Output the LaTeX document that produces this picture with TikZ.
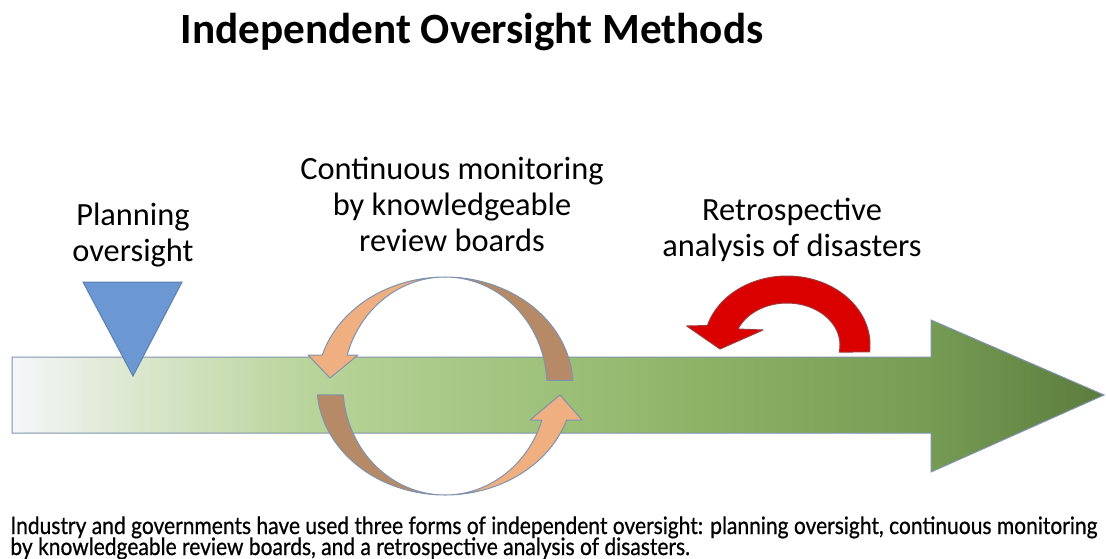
\documentclass[tikz,border=0pt]{standalone}
\usepackage{fontspec}
\usepackage{graphicx}
\setmainfont{Carlito}
\newfontfamily\capfont[FakeBold=0.7]{Lato}

% colours
\definecolor{flowA}{HTML}{F5F7FA}
\definecolor{flowB}{HTML}{E2EBD9}
\definecolor{flowC}{HTML}{BAD59C}
\definecolor{flowD}{HTML}{A3C580}
\definecolor{flowE}{HTML}{8DB367}
\definecolor{flowF}{HTML}{769C54}
\definecolor{flowG}{HTML}{5C7C3D}
\definecolor{edgeblue}{HTML}{7F93AE}
\definecolor{peach}{HTML}{EFAF80}
\definecolor{tan}{HTML}{B68A66}
\definecolor{alarm}{HTML}{DA0000}
\definecolor{alarmedge}{HTML}{9E3A3A}
\definecolor{planblue}{HTML}{6B98D3}
\definecolor{planedge}{HTML}{5A7FB0}

% left-to-right fade of the timeline arrow
\pgfdeclarehorizontalshading{flowshade}{100bp}{%
  color(0bp)=(flowA); color(25bp)=(flowA); color(29bp)=(flowB);
  color(38.2bp)=(flowC); color(47.3bp)=(flowD); color(56.4bp)=(flowE);
  color(67bp)=(flowF); color(74.9bp)=(flowG); color(100bp)=(flowG)}

\newlength\caplinewidth
\newcommand\capsize{\capfont\fontsize{12}{14}\selectfont}

\begin{document}
% horizontal squeeze for the caption so its first line spans the full width
\settowidth\caplinewidth{\capsize Industry and governments have used three forms of independent oversight: planning oversight, continuous monitoring}
\pgfmathsetmacro\capfactor{543.5/\caplinewidth}
\begin{tikzpicture}[x=0.5pt,y=-0.5pt,
  flowarrow/.style={shading=flowshade, draw=edgeblue, line width=0.5pt},
  cyclight/.style={fill=peach, draw=edgeblue, line width=0.5pt, line join=round},
  cycdark/.style={fill=tan, draw=edgeblue, line width=0.5pt, line join=round},
  redarrow/.style={fill=alarm, draw=alarmedge, line width=0.5pt, line join=round},
  planmark/.style={fill=planblue, draw=planedge, line width=0.5pt},
  label/.style={font=\fontsize{16.2}{18}\selectfont, align=center, inner sep=0pt},
  capline/.style={font=\capsize, anchor=base west, inner sep=0pt}
]
\useasboundingbox (0,0) rectangle (1106,558);

% title
\node[font=\bfseries\fontsize{21.6}{25}\selectfont, anchor=base, inner sep=0pt]
  (title) at (472,43) {Independent Oversight Methods};

% timeline arrow
\shade[flowarrow] (12,357) -- (931,357) -- (931,320) -- (1104,395)
  -- (931,472) -- (931,433) -- (12,433) -- cycle;

% planning marker
\path[planmark] (83,282) -- (182,282) -- (133,376) -- cycle;

% monitoring cycle: back faces
\path[cycdark]
  plot[domain=-3:-90, samples=40, variable=\t] ({445+128*cos(\t)},{386+109*sin(\t)})
  -- plot[domain=-90:-3, samples=40, variable=\t] ({445+102*cos(\t)},{386+109*sin(\t)})
  -- cycle;
\path[cycdark]
  plot[domain=175.3:90, samples=40, variable=\t] ({445+128*cos(\t)},{386+109*sin(\t)})
  -- plot[domain=90:175.3, samples=40, variable=\t] ({445+102*cos(\t)},{386+109*sin(\t)})
  -- cycle;
% monitoring cycle: front faces with heads
\path[cyclight]
  plot[domain=-90:-163.5, samples=40, variable=\t] ({445+128*cos(\t)},{386+109*sin(\t)})
  -- (308,355) -- (330,378) -- (358,355)
  -- plot[domain=-163.5:-90, samples=40, variable=\t] ({445+102*cos(\t)},{386+109*sin(\t)})
  -- cycle;
\path[cyclight]
  plot[domain=90:18.2, samples=40, variable=\t] ({445+128*cos(\t)},{386+109*sin(\t)})
  -- (582,420) -- (560,395) -- (530,420)
  -- plot[domain=18.2:90, samples=40, variable=\t] ({445+102*cos(\t)},{386+109*sin(\t)})
  -- cycle;

% retrospective arrow
\path[redarrow]
  plot[domain=5.8:-163.6, samples=50, variable=\t] ({787+83*cos(\t)},{345+69*sin(\t)})
  -- (686.7,326) -- (720,349) -- (763,330)
  -- plot[domain=-157.6:9.6, samples=50, variable=\t] ({787+53*cos(\t)},{345+42*sin(\t)})
  -- cycle;

% labels
\node[label] (plan) at (133,235) {Planning\\oversight};
\node[label] (monitor) at (452,204) {Continuous monitoring\\by knowledgeable\\review boards};
\node[label] (retro) at (792,230) {Retrospective\\analysis of disasters};

% caption
\node[capline] (cap1) at (10,534) {\scalebox{\capfactor}[1]{Industry and governments have used three forms of independent oversight: planning oversight, continuous monitoring}};
\node[capline] (cap2) at (10,555) {\scalebox{\capfactor}[1]{by knowledgeable review boards, and a retrospective analysis of disasters.}};
\end{tikzpicture}
\end{document}
